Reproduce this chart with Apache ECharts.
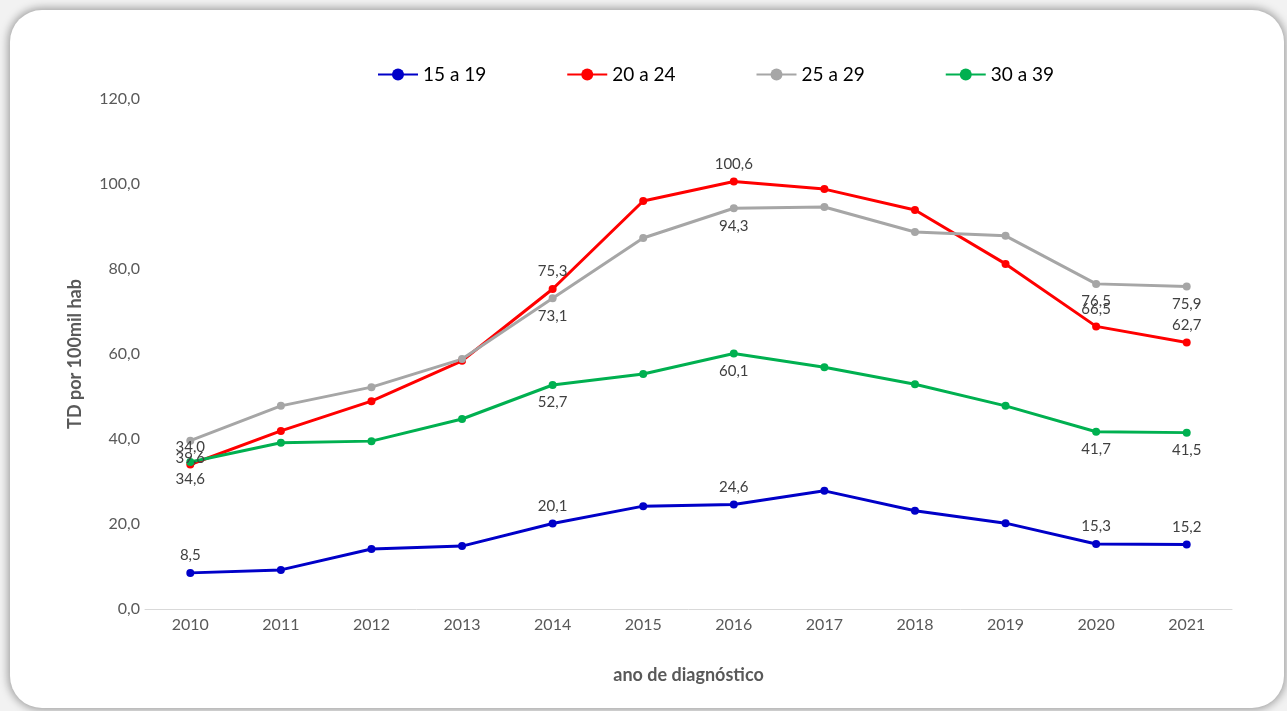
<!DOCTYPE html>
<html>
<head>
<meta charset="utf-8">
<script src="https://cdn.jsdelivr.net/npm/echarts@6/dist/echarts.min.js"></script>
<style>
  html, body { margin: 0; padding: 0; width: 1287px; height: 711px; overflow: hidden; background: #f2f2f2; }
  #card { position: absolute; left: 10px; top: 10px; width: 1274px; height: 698px; background: #fff;
          border-radius: 32px; box-shadow: 0 0 8px 2px rgba(0,0,0,0.35); }
  #main { position: absolute; left: 0; top: 0; width: 1287px; height: 711px; }
</style>
</head>
<body>
<div id="card"></div>
<div id="main"></div>
<script>
var years = ['2010', '2011', '2012', '2013', '2014', '2015', '2016', '2017', '2018', '2019', '2020', '2021'];
var age15to19 = [8.5, 9.2, 14.1, 14.8, 20.1, 24.2, 24.6, 27.8, 23.1, 20.2, 15.3, 15.2];
var age20to24 = [34.0, 41.9, 48.9, 58.4, 75.3, 96.0, 100.6, 98.8, 93.9, 81.2, 66.5, 62.7];
var age25to29 = [39.6, 47.8, 52.2, 58.8, 73.1, 87.3, 94.3, 94.6, 88.7, 87.8, 76.5, 75.9];
var age30to39 = [34.6, 39.1, 39.5, 44.7, 52.7, 55.3, 60.1, 56.9, 52.9, 47.8, 41.7, 41.5];
var yTicks = [0, 20, 40, 60, 80, 100, 120];
// only these points carry a value label
var labelled = ['2010', '2014', '2016', '2020', '2021'];

var chartDom = document.getElementById('main');
var myChart = echarts.init(chartDom);

function fmt(v) {
    return v.toFixed(1).replace('.', ',');
}

function makeSeries(name, values, color, pos) {
    return {
        name: name,
        type: 'line',
        data: values,
        symbol: 'circle',
        symbolSize: 8,
        lineStyle: { color: color, width: 3 },
        itemStyle: { color: color },
        label: {
            show: true,
            position: pos,
            distance: 6,
            color: '#404040',
            fontFamily: 'Lato',
            fontSize: 15,
            formatter: function (p) {
                return labelled.indexOf(p.name) >= 0 ? fmt(p.value) : '';
            }
        },
        emphasis: { disabled: true }
    };
}

var option = {
    animation: false,
    textStyle: { fontFamily: 'Lato' },
    legend: {
        top: 60,
        left: 372,
        itemWidth: 40,
        itemHeight: 15,
        itemGap: 80,
        textStyle: { color: '#000', fontSize: 19, fontFamily: 'Lato' },
        data: ['15 a 19', '20 a 24', '25 a 29', '30 a 39']
    },
    grid: { left: 145, right: 55, top: 99, bottom: 102 },
    xAxis: {
        type: 'category',
        data: years,
        name: 'ano de diagnóstico',
        nameLocation: 'middle',
        nameGap: 57,
        nameTextStyle: { color: '#595959', fontSize: 18, fontWeight: 'bold', fontFamily: 'Lato' },
        axisLine: { lineStyle: { color: '#d9d9d9', width: 1 } },
        axisTick: { show: false },
        axisLabel: { color: '#595959', fontSize: 16, margin: 8, fontFamily: 'Lato' }
    },
    yAxis: {
        type: 'value',
        min: yTicks[0],
        max: yTicks[yTicks.length - 1],
        interval: 20,
        name: 'TD por 100mil hab',
        nameLocation: 'middle',
        nameGap: 61,
        nameTextStyle: { color: '#595959', fontSize: 18, fontWeight: 'bold', fontFamily: 'Lato' },
        axisLine: { show: false },
        axisTick: { show: false },
        splitLine: { show: false },
        axisLabel: { color: '#595959', fontSize: 16, margin: 5, fontFamily: 'Lato', formatter: fmt }
    },
    series: [
        makeSeries('15 a 19', age15to19, '#0000c8', 'top'),
        makeSeries('20 a 24', age20to24, '#ff0000', 'top'),
        makeSeries('25 a 29', age25to29, '#a6a6a6', 'bottom'),
        makeSeries('30 a 39', age30to39, '#00b050', 'bottom')
    ]
};

option && myChart.setOption(option);
</script>
</body>
</html>
